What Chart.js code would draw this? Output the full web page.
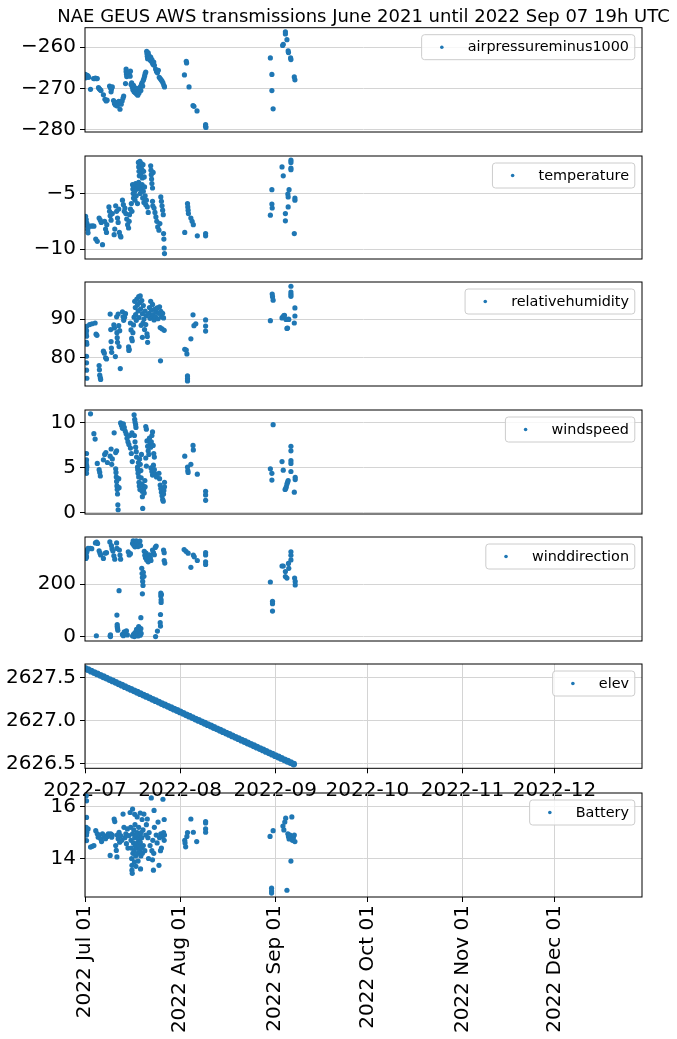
<!DOCTYPE html>
<html>
<head>
<meta charset="utf-8">
<script src="https://cdn.jsdelivr.net/npm/chart.js@4.4.0/dist/chart.umd.min.js"></script>
<style>
  body { margin: 0; background: #fff; width: 677px; height: 1039px; position: relative; overflow: hidden; }
  canvas { position: absolute; left: 0; }
</style>
</head>
<body>
<script>
// x = days since 2022-07-01 00:00 UTC
const monthTicks = [0, 31, 62, 92, 123, 153];
const monthLabels = ['2022-07', '2022-08', '2022-09', '2022-10', '2022-11', '2022-12'];
const monthLabelsLong = ['2022 Jul 01', '2022 Aug 01', '2022 Sep 01', '2022 Oct 01', '2022 Nov 01', '2022 Dec 01'];

const pressureTicks = [-280, -270, -260];
const temperatureTicks = [-10, -5];
const humidityTicks = [80, 90];
const windspeedTicks = [0, 5, 10];
const winddirTicks = [0, 200];
const elevTicks = [2626.5, 2627.0, 2627.5];
const batteryTicks = [14, 16];

const airpressure = [
  [0.1,-266.6],[0.3,-266.9],[0.5,-267.2],[0.7,-266.8],[1.0,-267.0],[1.2,-267.3],[0.2,-267.4],
  [1.8,-270.2],[2.8,-267.6],[3.1,-267.6],[3.4,-267.5],[3.7,-267.6],[4.0,-267.6],
  [4.4,-269.8],[4.7,-270.1],[5.0,-270.3],[5.2,-270.5],[6.0,-271.5],[6.5,-272.6],[6.9,-273.0],[7.2,-272.8],
  [8.0,-269.4],[8.3,-269.8],[8.6,-270.2],[8.9,-269.6],[8.5,-270.8],
  [9.3,-272.9],[9.6,-273.6],[9.9,-274.0],[10.2,-273.4],[10.5,-274.2],[10.8,-273.8],[11.0,-273.1],
  [11.4,-275.0],[11.8,-273.8],[12.1,-273.0],[12.4,-272.3],[12.6,-271.8],
  [13.2,-268.8],[13.4,-265.3],[13.4,-265.9],[13.5,-266.5],[13.6,-267.1],[13.8,-266.0],[14.1,-266.2],[14.4,-266.6],[14.7,-267.0],[14.8,-265.8],
  [15.0,-269.0],[15.2,-268.6],[15.4,-269.6],[15.6,-270.3],[15.8,-269.2],[16.0,-270.8],[16.2,-269.8],[16.4,-271.0],
  [16.6,-270.4],[16.8,-271.3],[17.0,-270.0],[17.2,-271.6],[17.4,-270.7],[17.6,-271.1],[17.8,-270.2],[18.0,-269.6],
  [18.2,-270.5],[18.4,-269.0],[18.6,-268.6],[18.8,-269.4],[19.0,-268.0],[19.2,-267.6],[19.4,-267.0],[19.6,-266.4],[19.8,-266.0],
  [20.1,-261.0],[20.2,-261.6],[20.3,-262.2],[20.4,-262.8],[20.6,-261.4],[20.8,-262.0],[21.0,-262.6],[21.2,-263.1],
  [21.4,-262.4],[21.6,-263.4],[21.8,-263.0],[22.0,-263.8],[22.2,-264.2],[22.4,-263.6],[22.6,-264.4],
  [23.0,-265.3],[23.3,-265.9],[23.6,-266.2],[23.9,-265.6],
  [24.2,-267.3],[24.5,-267.6],[24.8,-267.9],[25.1,-268.2],[25.4,-268.6],[25.7,-269.2],[25.9,-269.6],
  [32.4,-266.7],[33.0,-263.4],[33.1,-263.8],[33.9,-269.6],[35.2,-274.1],[35.5,-274.3],[36.5,-275.4],
  [39.3,-278.7],[39.3,-279.1],[39.4,-279.4],
  [60.4,-262.6],[60.9,-266.6],[60.9,-270.5],[61.3,-274.9],[64.4,-259.6],[64.6,-259.3],[65.3,-256.3],[65.3,-256.8],
  [65.8,-258.2],[66.2,-260.9],[66.3,-261.3],[67.0,-262.6],[67.1,-263.0],[68.2,-267.2],[68.4,-267.9]
];

const temperature = [
  [0.2,-7.06],[0.4,-7.35],[0.6,-7.65],[0.8,-7.94],[0.9,-8.24],[1.0,-8.53],
  [1.3,-7.94],[1.8,-7.94],[2.4,-7.9],[2.9,-7.94],[3.5,-9.1],[4.0,-9.3],
  [4.6,-7.2],[5.0,-7.4],[5.3,-7.6],[5.7,-9.6],[6.4,-7.5],[6.7,-8.2],[7.0,-8.5],[7.1,-7.8],
  [7.8,-6.2],[8.0,-6.6],[8.2,-7.0],[8.5,-7.4],[8.9,-6.8],[9.5,-8.7],[9.7,-8.2],
  [10.0,-6.1],[10.3,-6.6],[10.6,-7.2],[10.8,-7.6],[11.0,-6.4],[11.2,-8.5],[11.5,-8.8],[11.7,-8.9],
  [12.2,-5.6],[12.5,-6.0],[12.8,-6.6],[13.0,-6.3],[13.3,-6.8],[13.6,-7.3],[13.9,-7.8],[14.2,-8.1],[14.4,-7.5],
  [14.5,-6.9],[14.8,-6.4],[15.1,-5.9],[15.3,-6.6],
  [15.5,-4.2],[15.6,-4.6],[15.7,-5.0],[15.8,-5.4],[16.0,-4.4],[16.2,-4.8],[16.3,-5.6],[16.5,-4.1],[16.7,-5.2],[16.9,-4.6],[17.1,-5.9],[17.2,-4.3],
  [17.4,-2.2],[17.5,-2.6],[17.6,-3.0],[17.7,-3.4],[17.9,-2.1],[18.0,-2.5],[18.2,-3.2],[18.4,-2.3],[18.5,-2.8],[18.7,-3.6],[18.9,-2.4],[19.1,-3.0],[19.3,-3.5],
  [17.5,-4.0],[17.8,-4.5],[18.0,-5.0],[18.3,-4.7],[18.6,-4.2],[18.8,-5.4],[19.0,-4.8],[19.2,-5.8],[19.4,-4.4],[19.6,-5.2],[19.8,-6.0],[20.0,-5.6],
  [20.3,-6.2],[20.6,-6.7],
  [21.4,-2.5],[21.5,-2.9],[21.6,-3.3],[21.7,-3.7],[21.8,-4.1],[22.0,-4.5],[22.2,-3.1],[22.0,-5.7],[22.1,-6.1],
  [22.5,-6.3],[22.8,-6.7],[23.1,-7.1],[23.4,-7.5],[23.7,-8.0],[24.1,-8.3],[24.4,-7.7],
  [24.7,-5.3],[24.9,-5.7],[25.1,-6.1],[25.3,-6.5],[25.5,-6.9],[25.6,-8.6],[25.7,-9.1],[25.8,-9.9],[25.9,-10.4],
  [32.5,-8.5],[33.4,-5.9],[33.5,-6.2],[33.6,-6.5],[33.7,-6.8],[34.5,-7.2],[34.9,-7.5],[35.3,-7.8],[36.6,-8.8],
  [39.3,-8.6],[39.3,-8.8],
  [60.4,-6.95],[60.9,-4.65],[60.9,-5.95],[61.0,-6.3],[64.2,-2.6],[64.6,-3.4],[65.3,-6.8],[65.3,-7.45],
  [66.1,-5.05],[66.2,-5.3],[66.2,-6.2],[66.5,-4.65],[67.1,-2.0],[67.1,-2.2],[67.1,-2.7],[67.1,-2.85],
  [68.2,-8.6],[68.4,-5.4],[68.4,-5.6]
];

const humidity = [
  [0.5,88.1],[0.5,87.0],[0.4,86.2],[0.5,85.6],[0.5,84.0],[0.6,83.5],[0.5,80.4],[0.5,78.7],[0.5,76.8],[0.6,74.7],
  [1.5,88.6],[2.3,88.8],[3.3,89.0],[3.6,86.1],[3.9,85.8],
  [4.6,78.0],[4.7,76.9],[4.8,75.5],[5.0,74.8],[5.1,74.4],[6.0,81.7],[6.3,81.2],[6.7,80.0],[7.0,79.7],
  [8.2,91.3],[8.4,87.3],[8.5,84.2],[8.6,82.5],[8.7,81.4],[9.4,88.5],[9.6,87.7],[9.9,80.3],
  [10.3,90.6],[10.4,86.5],[10.5,85.2],[10.6,84.0],[10.8,91.3],[11.0,88.3],[11.1,82.9],[11.3,87.0],[11.5,77.2],
  [12.2,91.9],[12.4,90.6],[12.6,89.7],[12.9,90.5],[13.2,91.4],[14.2,82.8],[14.3,81.9],[14.4,82.2],
  [14.8,89.0],[15.0,87.2],[15.2,85.0],[15.4,84.4],[15.6,86.5],[15.8,88.5],[16.0,90.5],
  [16.2,94.6],[16.4,93.0],[16.5,91.2],[16.7,89.7],[16.9,95.2],[17.1,93.7],[17.3,92.1],[17.5,95.8],[17.6,90.4],
  [17.8,94.3],[18.0,96.0],[18.1,92.6],[18.3,88.4],[18.5,94.8],[18.7,91.4],[18.9,89.0],[19.0,93.5],[19.2,90.0],
  [19.4,87.3],[19.6,92.1],[19.8,88.6],[20.0,90.9],[20.2,86.2],[18.7,85.3],[20.4,84.0],[20.3,85.5],
  [20.9,91.5],[21.0,93.0],[21.2,90.2],[21.4,94.6],[21.6,92.4],[21.8,90.8],[22.0,93.8],[22.2,91.2],[22.5,89.8],
  [22.7,92.5],[23.0,90.5],[23.2,91.8],[23.5,92.9],[23.8,90.1],[24.0,91.5],[24.3,93.2],[24.5,87.8],[24.7,92.0],
  [24.9,90.6],[25.1,87.5],[25.3,91.5],[25.6,90.3],[25.8,87.1],[24.6,79.2],
  [32.5,82.2],[33.0,82.0],[33.2,81.0],[33.4,75.3],[33.4,74.6],[33.4,74.0],[34.5,84.9],[35.2,91.1],[35.5,88.3],[36.1,88.8],
  [39.3,89.8],[39.3,88.2],[39.3,86.9],
  [60.4,89.6],[61.0,96.5],[61.1,95.8],[61.3,94.9],[64.2,90.3],[64.5,90.6],[64.8,90.9],[65.0,91.0],[65.5,89.9],
  [65.8,87.6],[66.0,87.7],[66.3,90.0],[66.4,89.9],[67.1,98.5],[67.1,97.0],[67.1,96.4],[67.1,95.9],
  [68.2,89.0],[68.4,90.8],[68.4,92.9]
];

const windspeed = [
  [0.5,6.6],[0.5,5.9],[0.4,5.6],[0.5,5.3],[0.6,5.1],[0.5,4.8],[0.5,4.4],
  [1.8,11.0],[2.9,8.8],[3.3,8.2],[4.0,5.5],[4.6,4.8],[4.8,4.5],[5.0,4.1],
  [6.0,5.9],[6.4,6.5],[6.8,6.7],[7.3,5.6],[8.2,6.3],[8.5,7.1],[8.7,5.4],[8.9,6.0],[9.5,8.9],[10.0,6.7],[10.3,6.9],
  [10.0,4.9],[10.1,4.5],[10.2,4.0],[10.3,3.5],[10.4,3.0],[10.5,2.6],[10.6,2.1],[10.7,0.9],[10.8,0.35],[11.0,3.8],[11.1,2.8],
  [11.6,10.0],[11.9,9.7],[12.2,9.4],[12.5,9.9],[12.8,9.5],[13.1,9.1],
  [13.4,8.8],[13.7,8.3],[14.0,7.9],[14.3,7.6],[14.6,8.6],[14.8,7.2],[15.1,6.6],[15.3,8.9],[15.4,5.7],
  [16.0,10.9],[16.2,10.4],[16.3,10.1],[16.5,9.8],[16.6,9.5],[16.1,8.6],[16.3,7.9],[16.5,7.3],[16.7,6.8],[16.8,6.2],
  [17.1,5.1],[17.2,4.8],[17.3,4.4],[17.5,4.0],[17.6,3.4],[17.7,3.0],[17.9,2.6],[18.0,5.4],[18.2,4.7],[18.3,3.9],
  [18.5,3.2],[18.6,2.4],[18.7,1.8],[18.8,0.5],[19.0,3.0],[19.1,2.6],[19.3,2.2],[19.5,3.6],[19.6,2.9],[19.8,6.1],
  [20.0,5.2],[17.8,6.0],[18.4,6.5],[17.4,5.6],
  [19.8,9.6],[20.0,9.3],[20.2,8.0],[20.4,7.4],[20.6,6.9],[20.8,6.5],
  [21.0,8.3],[21.2,7.7],[21.4,7.3],[21.6,7.9],[21.8,8.6],[22.0,9.0],[22.2,7.5],[22.4,6.6],[22.6,6.2],
  [21.5,5.0],[21.8,4.6],[22.0,4.2],[22.3,5.3],[22.6,4.8],[23.0,4.3],[23.3,4.0],
  [24.1,4.4],[24.3,3.8],[24.5,3.1],[24.7,2.7],[24.9,2.3],[25.1,1.9],[25.3,1.5],[25.5,1.3],[25.7,2.5],[25.9,2.9],[25.9,3.4],[25.6,2.1],
  [32.5,6.3],[33.4,5.1],[33.5,4.7],[33.6,4.5],[34.5,5.4],[35.2,7.5],[35.3,7.0],[36.6,4.3],[39.3,2.4],[39.3,2.0],[39.3,1.4],
  [60.4,4.9],[60.9,4.4],[60.9,3.65],[61.3,9.8],[64.2,5.7],[64.6,4.75],[65.2,2.6],[65.4,2.7],[65.6,2.9],[65.8,3.2],
  [66.0,3.4],[66.2,3.6],[67.1,7.4],[67.1,6.9],[67.1,5.8],[67.1,5.5],[67.1,4.6],[68.2,2.3],[68.5,3.95],[68.5,3.7]
];

const winddirection = [
  [0.3,298],[0.4,310],[0.6,322],[0.8,331],[1.0,336],[0.5,303],[1.7,336],[2.2,335],
  [3.4,357],[3.8,360],[4.1,355],[3.7,3],[4.6,327],[4.9,318],[5.1,311],[6.0,298],[6.6,318],[7.0,320],
  [8.1,361],[8.2,3],[8.3,0],[8.3,6],[8.6,347],[8.8,335],[9.1,326],[9.4,308],[9.7,295],[10.3,357],[10.4,336],
  [10.4,82],[10.5,46],[10.5,38],[10.6,32],[10.7,24],[11.1,175],[11.2,330],[11.4,311],[11.6,295],
  [12.2,8],[12.5,3],[12.8,18],[13.2,12],[13.5,22],[13.8,6],[14.1,323],[14.4,311],[14.8,316],
  [15.5,355],[15.7,365],[15.9,348],[16.1,361],[16.3,342],[16.5,356],[16.7,365],[16.9,348],[17.1,360],[17.3,343],[17.6,352],[17.9,364],[18.1,347],
  [15.5,2],[15.8,8],[16.1,0],[16.3,15],[16.6,4],[16.8,27],[17.1,10],[17.3,2],[17.5,38],[17.8,20],[18.0,5],[18.2,30],[18.3,12],[18.2,72],
  [18.5,260],[18.6,240],[18.7,225],[18.8,210],[18.9,195],[18.7,163],[19.0,245],[19.2,230],
  [19.3,325],[19.5,310],[19.7,300],[19.9,318],[20.1,292],[20.3,305],[20.6,285],[20.8,296],[21.0,312],[21.3,300],[21.5,290],
  [22.0,330],[22.3,320],[22.6,312],[22.9,340],[23.2,345],[23.0,0],[23.6,21],
  [24.5,53],[24.6,40],[24.6,84],[24.7,166],[24.7,155],[24.8,140],[24.8,130],[24.9,160],
  [25.6,330],[25.8,320],[25.8,290],[26.0,280],
  [32.3,332],[32.9,325],[33.6,318],[34.5,264],[35.3,311],[35.6,304],[36.6,290],
  [39.3,320],[39.3,311],[39.3,285],[39.3,275],
  [60.4,208],[61.1,134],[61.1,125],[61.1,97],[64.2,269],[64.6,269],[65.3,248],[65.3,229],[65.8,223],
  [66.3,279],[66.4,260],[67.1,323],[67.1,310],[67.1,292],[68.3,223],[68.5,210],[68.5,197]
];

const elev = [
  [0,2627.605],[1,2627.589],[2,2627.572],[3,2627.556],[4,2627.540],[5,2627.523],[6,2627.507],[7,2627.491],
  [8,2627.474],[9,2627.458],[10,2627.442],[11,2627.425],[12,2627.409],[13,2627.392],[14,2627.376],[15,2627.360],
  [16,2627.343],[17,2627.327],[18,2627.311],[19,2627.294],[20,2627.278],[21,2627.262],[22,2627.245],[23,2627.229],
  [24,2627.213],[25,2627.196],[26,2627.180],[27,2627.164],[28,2627.147],[29,2627.131],[30,2627.115],[31,2627.098],
  [32,2627.082],[33,2627.065],[34,2627.049],[35,2627.033],[36,2627.016],[37,2627.000],[38,2626.984],[39,2626.967],
  [40,2626.951],[41,2626.935],[42,2626.918],[43,2626.902],[44,2626.886],[45,2626.869],[46,2626.853],[47,2626.837],
  [48,2626.820],[49,2626.804],[50,2626.788],[51,2626.771],[52,2626.755],[53,2626.738],[54,2626.722],[55,2626.706],
  [56,2626.689],[57,2626.673],[58,2626.657],[59,2626.640],[60,2626.624],[61,2626.608],[62,2626.591],[63,2626.575],
  [64,2626.559],[65,2626.542],[66,2626.526],[67,2626.510],[68,2626.493]
];

const battery = [
  [0.4,16.41],[0.5,16.22],[0.5,15.58],[0.4,15.2],[0.5,15.1],[0.6,15.0],[0.5,14.9],[0.5,14.69],[1.0,15.14],
  [1.8,14.44],[2.4,14.47],[2.9,14.5],[3.5,15.07],[4.0,14.95],[4.3,14.82],[4.6,14.9],[5.1,14.76],[5.4,14.65],
  [5.7,14.95],[6.2,14.88],[6.7,14.76],[7.3,14.85],[7.6,14.95],[8.2,14.12],[8.4,14.95],[8.7,14.82],[8.9,14.9],
  [9.5,15.52],[9.7,15.42],[10.0,14.5],[10.2,14.31],[10.4,14.06],[10.5,14.9],[10.8,14.76],[11.1,15.01],[11.3,14.63],
  [11.6,14.88],[12.0,14.7],[12.4,15.71],[12.7,15.2],[13.0,14.8],[13.3,14.95],[13.5,14.57],[13.8,15.14],[14.0,14.4],
  [14.3,14.88],[14.7,15.77],[15.5,15.9],
  [14.9,15.2],[15.0,14.7],[15.1,14.4],[15.2,14.0],[15.3,13.74],[15.3,13.55],[15.4,13.43],[15.5,14.95],[15.6,14.2],
  [15.8,14.6],[15.9,15.1],[16.0,14.3],[16.1,13.87],[16.2,14.8],[16.3,15.3],[16.4,14.5],[16.5,14.1],[16.6,13.7],
  [16.7,14.9],[16.8,14.4],[17.0,15.0],[17.1,14.6],[17.2,14.2],[17.3,13.9],[17.4,14.75],[17.5,15.2],[17.6,14.5],
  [17.8,14.3],[17.9,14.9],[18.0,14.63],[18.1,13.6],[18.2,14.1],[18.3,15.0],[18.4,14.4],[18.5,14.8],[18.7,14.2],
  [18.9,15.1],[19.0,14.5],[16.2,15.7],[17.0,15.6],[18.0,15.75],[18.6,15.5],[19.2,15.71],
  [19.5,14.3],[19.8,14.9],[20.0,15.3],[20.3,15.52],[20.5,14.8],[20.7,14.0],[20.9,15.0],[21.2,14.5],
  [21.6,16.33],[21.8,14.3],[22.0,13.95],[22.1,14.7],[22.3,13.55],[22.5,15.85],[22.4,14.2],[22.6,15.2],
  [23.2,14.9],[23.5,14.6],[23.8,15.4],[24.1,13.74],[24.3,14.8],[24.6,14.3],[24.7,14.95],[24.9,14.4],[25.2,14.85],
  [25.4,16.28],[25.6,15.0],[25.8,15.5],[25.8,14.7],[25.9,14.9],
  [32.5,14.7],[32.6,14.6],[32.8,14.45],[33.2,14.85],[33.4,15.0],[34.5,15.52],[35.3,15.01],[36.4,14.65],
  [39.3,15.42],[39.3,15.37],[39.3,15.14],[39.3,15.01],
  [60.3,14.85],[61.3,15.07],[60.8,12.86],[60.8,12.75],[60.8,12.67],
  [64.5,15.25],[64.8,15.1],[65.1,15.4],[65.4,15.55],[65.8,12.78],[66.1,14.95],[66.3,14.85],[66.5,14.75],
  [66.8,14.9],[67.1,13.9],[67.4,15.6],[67.2,14.85],[67.6,14.7],[67.9,14.8],[68.2,14.9],[68.4,14.65]
];

const TITLE = 'NAE GEUS AWS transmissions June 2021 until 2022 Sep 07 19h UTC';
const BLUE = '#1f77b4';
const GRID = '#d4d4d4';
const PLOT_H = 105;

Chart.defaults.font.family = "'DejaVu Sans', sans-serif";
Chart.defaults.color = '#000';

const minus = v => (v < 0 ? '\u2212' + Math.abs(v) : String(v));

const panels = [
  { label: 'airpressureminus1000', data: airpressure, ticks: pressureTicks, min: -280.5, max: -255.3, top: 27.7, xaxis: 'none', fmt: minus },
  { label: 'temperature', data: temperature, ticks: temperatureTicks, min: -10.89, max: -1.62, top: 155, xaxis: 'none', fmt: minus },
  { label: 'relativehumidity', data: humidity, ticks: humidityTicks, min: 72.7, max: 99.6, top: 281.7, xaxis: 'none', fmt: minus },
  { label: 'windspeed', data: windspeed, ticks: windspeedTicks, min: -0.12, max: 11.43, top: 409.3, xaxis: 'none', fmt: minus },
  { label: 'winddirection', data: winddirection, ticks: winddirTicks, min: -17, max: 379.6, top: 536.7, xaxis: 'none', fmt: minus },
  { label: 'elev', data: elev, ticks: elevTicks, min: 2626.444, max: 2627.655, top: 663.3, xaxis: 'short', fmt: v => v.toFixed(1), r: 3.4 },
  { label: 'Battery', data: battery, ticks: batteryTicks, min: 12.52, max: 16.52, top: 792, xaxis: 'long', fmt: minus }
];

// black box round the plot, like matplotlib spines
const frame = {
  id: 'frame',
  afterDatasetsDraw(chart) {
    const { ctx, chartArea: a } = chart;
    ctx.save();
    ctx.strokeStyle = '#000';
    ctx.lineWidth = 1;
    ctx.strokeRect(a.left, a.top, a.right - a.left, a.bottom - a.top);
    ctx.restore();
  }
};

// figure title, centred over the plot area (chart.js title would squeeze it)
const figTitle = {
  id: 'figTitle',
  afterDraw(chart, args, opts) {
    if (!opts.text) return;
    const { ctx, chartArea: a } = chart;
    ctx.save();
    ctx.font = "18px 'DejaVu Sans'";
    ctx.fillStyle = '#000';
    ctx.textAlign = 'center';
    ctx.textBaseline = 'alphabetic';
    ctx.fillText(opts.text, (a.left + a.right) / 2, 21.7);
    ctx.restore();
  }
};

// legend in the upper right corner
const legendBox = {
  id: 'legendBox',
  afterDraw(chart) {
    const { ctx, chartArea: a } = chart;
    const label = chart.data.datasets[0].label;
    ctx.save();
    ctx.font = "14.4px 'DejaVu Sans'";
    const tw = ctx.measureText(label).width;
    const right = a.right - 7.2, top = a.top + 7, h = 25;
    const left = right - 5.8 - tw - 11.5 - 28.8 - 5.8;
    ctx.beginPath();
    ctx.roundRect(left, top, right - left, h, 3);
    ctx.fillStyle = 'rgba(255,255,255,0.8)';
    ctx.fill();
    ctx.strokeStyle = '#cccccc';
    ctx.lineWidth = 1;
    ctx.stroke();
    ctx.beginPath();
    ctx.arc(left + 5.8 + 14.4, top + h / 2, 1.8, 0, Math.PI * 2);
    ctx.fillStyle = BLUE;
    ctx.fill();
    ctx.fillStyle = '#000';
    ctx.textAlign = 'right';
    ctx.textBaseline = 'middle';
    ctx.fillText(label, right - 5.8, top + h / 2 + 0.5);
    ctx.restore();
  }
};

panels.forEach((p, i) => {
  const cv = document.createElement('canvas');
  document.body.appendChild(cv);
  const canvasTop = i === 0 ? 0 : Math.floor(p.top) - 15;
  const padTop = p.top - canvasTop;
  const xHeight = p.xaxis === 'short' ? 30 : (p.xaxis === 'long' ? 140 : 0);
  const h = Math.ceil(padTop + PLOT_H + xHeight + (p.xaxis === 'none' ? 15 : 0));
  const padBottom = h - padTop - PLOT_H - xHeight;
  cv.width = 677;
  cv.height = h;
  cv.style.width = '677px';
  cv.style.height = h + 'px';
  cv.style.top = canvasTop + 'px';

  const labels = p.xaxis === 'long' ? monthLabelsLong : monthLabels;
  const rot = p.xaxis === 'long' ? 90 : 0;

  new Chart(cv, {
    type: 'scatter',
    data: {
      datasets: [{
        label: p.label,
        data: p.data.map(d => ({ x: d[0], y: d[1] })),
        backgroundColor: BLUE,
        borderWidth: 0,
        pointRadius: p.r || 2.6,
        pointHoverRadius: p.r || 2.6
      }]
    },
    options: {
      responsive: false,
      animation: false,
      layout: { padding: { top: padTop, bottom: padBottom, left: 0, right: 35 } },
      plugins: {
        legend: { display: false },
        tooltip: { enabled: false },
        figTitle: { text: i === 0 ? TITLE : '' }
      },
      scales: {
        x: {
          type: 'linear',
          min: 0,
          max: 181.5,
          display: p.xaxis !== 'none',
          afterBuildTicks: s => { s.ticks = monthTicks.map(v => ({ value: v })); },
          afterFit: s => { s.height = xHeight; },
          grid: { color: GRID, tickColor: '#000', tickLength: 5 },
          border: { display: false },
          ticks: {
            font: { size: 20 },
            padding: rot ? 3 : 5,
            autoSkip: false,
            minRotation: rot,
            maxRotation: rot,
            callback: (v, idx) => labels[idx]
          }
        },
        y: {
          min: p.min,
          max: p.max,
          afterBuildTicks: s => { s.ticks = p.ticks.map(v => ({ value: v })); },
          afterFit: s => { s.width = 85; },
          grid: { color: GRID, tickColor: '#000', tickLength: 5 },
          border: { display: false },
          ticks: { font: { size: 20 }, padding: 4, callback: v => p.fmt(v) }
        }
      }
    },
    plugins: [frame, legendBox, figTitle]
  });
});
</script>
</body>
</html>
